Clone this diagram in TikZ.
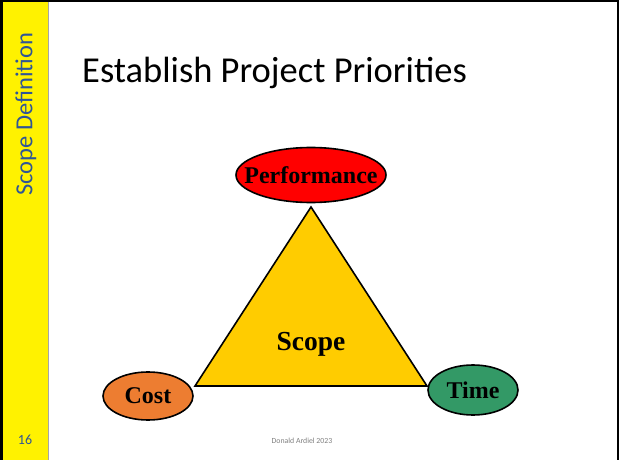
\documentclass[tikz,border=0pt]{standalone}
\usepackage{fontspec}
\setmainfont{Liberation Serif}
\newfontfamily\calibri{Carlito}
\usetikzlibrary{shapes.geometric}
\definecolor{barblue}{HTML}{2F5597}
\definecolor{perfred}{HTML}{FF0000}
\definecolor{scopeyel}{HTML}{FFCC00}
\definecolor{costor}{HTML}{ED7D31}
\definecolor{timegr}{HTML}{339966}
\tikzset{
  blob/.style={ellipse, draw=black, line width=1.6pt, inner sep=0pt},
  lbl/.style={font=\bfseries\fontsize{24}{28}\selectfont, text=black}
}
\begin{document}
\begin{tikzpicture}[x=1pt,y=-1pt]
\useasboundingbox (0,0) rectangle (619,460);
\fill[white] (0,0) rectangle (619,460);
% side bar
\fill[yellow] (3,2) rectangle (48,460);
\fill[black] (0,0) rectangle (3,460);
\fill[black] (0,0) rectangle (619,2.5);
\fill[black] (616.5,0) rectangle (618.5,460);
\draw[gray!70, line width=0.8pt] (48.5,2) -- (48.5,460);
\node[rotate=90, text=barblue, font=\calibri\fontsize{24.5}{28}\selectfont] (side) at (26,114) {Scope Definition};
\node[text=barblue, font=\calibri\fontsize{14}{16}\selectfont] (pg) at (25,440) {16};
% title
\node[anchor=base west, font=\calibri\fontsize{36.5}{40}\selectfont, inner sep=0pt] (title) at (82,83) {Establish Project Priorities};
% triangle
\coordinate (apex) at (311,207);
\coordinate (bl) at (195,386);
\coordinate (br) at (427,386);
\draw[fill=scopeyel, line width=1.6pt, line join=miter] (apex) -- (bl) -- (br) -- cycle;
\node[lbl, font=\bfseries\fontsize{27.5}{30}\selectfont] (scope) at (311,344) {Scope};
% ellipses
\node[blob, fill=perfred, minimum width=150pt, minimum height=55pt] (perf) at (311,175) {};
\node[lbl] at (perf) {Performance};
\node[blob, fill=costor, minimum width=90pt, minimum height=48pt] (cost) at (148,396) {};
\node[lbl] at (cost) {Cost};
\node[blob, fill=timegr, minimum width=90pt, minimum height=50pt] (time) at (473,390) {};
\node[lbl] at (time) {Time};
% footer
\node[text=gray, font=\calibri\fontsize{7.8}{9}\selectfont] (foot) at (302,441) {Donald Ardiel 2023};
\end{tikzpicture}
\end{document}
